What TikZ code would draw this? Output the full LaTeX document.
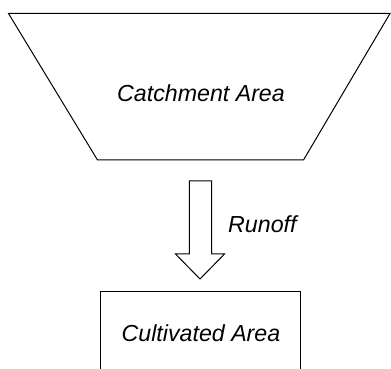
\documentclass[tikz,border=0pt]{standalone}
\usepackage{fontspec}
\setmainfont{Liberation Sans}
\begin{document}
\begin{tikzpicture}[x=1pt,y=1pt,
  outline/.style={draw=black,line width=1pt,line join=miter},
  lbl/.style={font=\fontsize{23.2}{28}\selectfont\itshape,inner sep=0pt,anchor=base}]
\useasboundingbox (0,0) rectangle (391,369);
\clip (0,0) rectangle (391,369);
% catchment area (trapezoid)
\draw[outline] (8.5,355.5) -- (390,355.5) -- (303.5,209) -- (97.5,209) -- cycle;
\node[lbl] (catch) at (201,267) {Catchment Area};
% runoff arrow
\draw[outline] (189.3,188) -- (211.5,188) -- (211.5,115) -- (224.5,115) -- (200,90)
  -- (175.5,115) -- (189.3,115) -- cycle;
\node[lbl,anchor=base west] (runoff) at (228,136) {Runoff};
% cultivated area (box cut by the lower edge)
\draw[outline] (100.5,-5) -- (100.5,77.5) -- (300.5,77.5) -- (300.5,-5);
\node[lbl] (cult) at (201,27.5) {Cultivated Area};
\end{tikzpicture}
\end{document}
